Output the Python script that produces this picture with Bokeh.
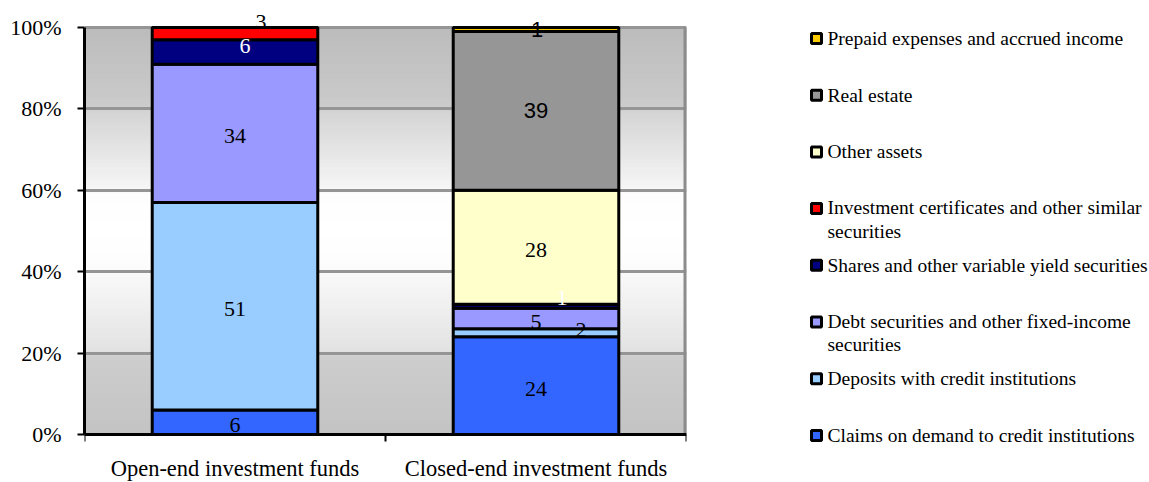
from bokeh.plotting import figure
from bokeh.models import ColumnDataSource, Range1d, FixedTicker, PrintfTickFormatter
from bokeh.layouts import row
from bokeh.embed import file_html
from bokeh.resources import INLINE
from bokeh.core.properties import value

# ---------------- data ----------------
categories = ["Open-end investment funds", "Closed-end investment funds"]
series_keys = ["claims", "deposits", "debt", "shares", "certificates", "other", "realestate", "prepaid"]
legend_labels = [
    "Claims on demand to credit institutions",
    "Deposits with credit institutions",
    "Debt securities and other fixed-income\nsecurities",
    "Shares and other variable yield securities",
    "Investment certificates and other similar\nsecurities",
    "Other assets",
    " Real estate",
    "Prepaid expenses and accrued income",
]
claims = [6, 24]
deposits = [51, 2]
debt = [34, 5]
shares = [6, 1]
certificates = [3, 0]
other_assets = [0, 28]
real_estate = [0, 39]
prepaid = [0, 1]
y_ticks = [0, 20, 40, 60, 80, 100]

# ---------------- styles ----------------
colors = ["#3366FF", "#99CCFF", "#9999FF", "#000080", "#FF0000", "#FFFFCC", "#969696", "#FFCC00"]
SERIF = "Liberation Serif"
SANS = "Liberation Sans"
# label tweaks: (category index, series key) -> (dx px, dy px, color, font)
label_style = {
    (0, "shares"): (10, -6, "white", SERIF),
    (0, "certificates"): (26, -12, "black", SERIF),
    (1, "deposits"): (45, -3, "black", SERIF),
    (1, "shares"): (26, -8, "white", SERIF),
    (1, "realestate"): (0, 0, "black", SANS),
    (1, "prepaid"): (1, 0, "black", SANS),
}
BASE_DY = 3

values = [claims, deposits, debt, shares, certificates, other_assets, real_estate, prepaid]
xs = [i + 0.5 for i in range(len(categories))]

data = {"x": xs}
for k, v in zip(series_keys, values):
    data[k] = v
src = ColumnDataSource(data)

# layout geometry (pixels)
TOTAL_W, H = 1149, 482
FW = 700
F_LEFT, F_RIGHT = 84, 686          # plot area horizontal extent
Y0_PX, Y100_PX = 434, 27           # screen y of 0% and 100%
PX = (Y0_PX - Y100_PX) / 100.0
y_start = -(H - Y0_PX) / PX
y_end = 100 + Y100_PX / PX

p = figure(width=FW, height=H, x_range=Range1d(0, len(categories)), y_range=Range1d(y_start, y_end),
           toolbar_location=None, output_backend="svg")
p.min_border_left = F_LEFT
p.min_border_top = 0
p.min_border_bottom = 0
p.min_border_right = FW - F_RIGHT
p.outline_line_color = None
p.background_fill_color = "white"
p.border_fill_color = "white"

# background gradient (style)
keys = [(0, 195), (19.5, 205), (20.5, 226), (39.5, 249), (40.5, 252), (50, 255),
        (59.5, 253), (60.5, 246), (79.5, 212), (80.5, 203), (100, 188)]
def gray_at(y):
    for (y0, g0), (y1, g1) in zip(keys[:-1], keys[1:]):
        if y0 <= y <= y1:
            return g0 + (g1 - g0) * (y - y0) / (y1 - y0)
    return keys[-1][1]
bands_b = [i * 0.5 for i in range(200)]
bands_t = [b + 0.5 for b in bands_b]
band_cols = ["#%02x%02x%02x" % ((round(gray_at(b + 0.25)),) * 3) for b in bands_b]
p.quad(left=0, right=len(categories), bottom=bands_b, top=bands_t, fill_color=band_cols,
       line_color=band_cols, line_width=1.2, level="underlay")

p.grid.grid_line_color = None
p.ygrid.grid_line_color = "#959595"
p.ygrid.grid_line_width = 3
p.ygrid.ticker = FixedTicker(ticks=y_ticks)

# right border of plot area
p.segment(x0=len(categories), x1=len(categories), y0=0, y1=100, line_color="#8c8c8c", line_width=6)

# stacked bars
p.vbar_stack(series_keys, x="x", width=0.55, source=src, fill_color=colors,
             line_color="black", line_width=3)

# data labels
lx, ly, lt, lc, lf, ldx, ldy = [], [], [], [], [], [], []
for i in range(len(categories)):
    cum = 0
    for k, v in zip(series_keys, values):
        val = v[i]
        if val > 0:
            dx, dy, col, font = label_style.get((i, k), (0, BASE_DY, "black", SERIF))
            lx.append(xs[i]); ly.append(cum + val / 2); lt.append("%d" % val)
            lc.append(col); lf.append(font); ldx.append(dx); ldy.append(dy)
        cum += val
lsrc = ColumnDataSource(dict(x=lx, y=ly, text=lt, color=lc, font=lf, dx=ldx, dy=ldy))
p.text(x="x", y="y", text="text", text_color="color", text_font="font", x_offset="dx", y_offset="dy",
       text_font_size="22px", text_align="center", text_baseline="middle", source=lsrc)

# axes
yax = p.yaxis[0]
yax.ticker = FixedTicker(ticks=y_ticks)
yax.bounds = (0, 100)
yax.formatter = PrintfTickFormatter(format="%d%%")
yax.axis_line_color = "black"
yax.axis_line_width = 3
yax.major_tick_line_color = "black"
yax.major_tick_line_width = 2
yax.major_tick_out = 7
yax.major_tick_in = 0
yax.minor_tick_line_color = None
yax.major_label_standoff = 16
yax.major_label_text_font = SERIF
yax.major_label_text_font_size = "22px"
yax.major_label_text_color = "black"

xax = p.xaxis[0]
xax.fixed_location = 0
xax.ticker = FixedTicker(ticks=xs, minor_ticks=list(range(len(categories) + 1)))
xax.major_label_overrides = {x: c for x, c in zip(xs, categories)}
xax.axis_line_color = "black"
xax.axis_line_width = 3
xax.major_tick_line_color = None
xax.major_tick_out = 0
xax.major_tick_in = 0
xax.minor_tick_line_color = "black"
xax.minor_tick_line_width = 2
xax.minor_tick_out = 7
xax.minor_tick_in = 0
xax.major_label_standoff = 14
xax.major_label_text_font = SERIF
xax.major_label_text_font_size = "22.5px"
xax.major_label_text_color = "black"

# ---------------- legend panel ----------------
LW = TOTAL_W - FW
STEP = 56.7
FIRST = 38
top_val = -FIRST / STEP
leg = figure(width=LW, height=H, x_range=Range1d(0, LW), y_range=Range1d(top_val + H / STEP, top_val),
             toolbar_location=None, output_backend="svg", min_border=0)
leg.min_border_left = leg.min_border_right = leg.min_border_top = leg.min_border_bottom = 0
leg.axis.visible = False
leg.grid.visible = False
leg.outline_line_color = None
n = len(series_keys)
LFS = 19.5
LH = 1.12
leg_src = ColumnDataSource(dict(
    y=[n - 1 - j for j in range(n)],
    color=colors,
    label=legend_labels,
    dy=[lab.count("\n") * 0.5 * LH * LFS for lab in legend_labels],
))
MARK_X = 816 - FW
TEXT_X = 827 - FW
leg.rect(x=MARK_X, y="y", width=10, height=10, width_units="screen", height_units="screen",
         fill_color="color", line_color="black", line_width=3, source=leg_src)
leg.text(x=TEXT_X, y="y", text="label", y_offset="dy", text_font=value(SERIF), text_font_size="%spx" % LFS,
         text_baseline="middle", text_align="left", text_color="black", text_line_height=LH,
         source=leg_src)

layout = row(p, leg)
open("out.html", "w").write(file_html(layout, INLINE))
